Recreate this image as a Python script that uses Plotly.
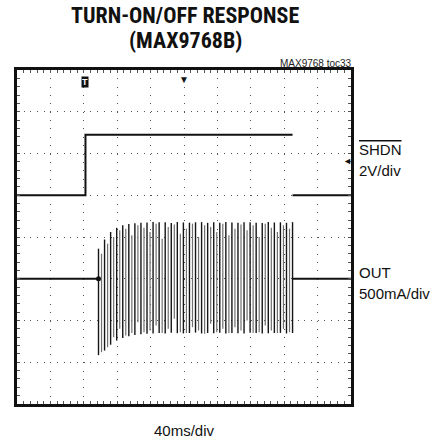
import plotly.graph_objects as go

# ---------------- data ----------------
time_per_div_ms = 40
n_xdiv = 10
n_ydiv = 8

# SHDN channel (volts), 2 V/div, ground marker at +1 div
shdn_t_ms = [0, 82, 82, 330, None, 330, 400]
shdn_v = [0, 0, 2.9, 2.9, None, 0, 0]
shdn_v_per_div = 2
shdn_offset_div = 1

# OUT channel (mA), 500 mA/div, ground at -1 div
out_ma_per_div = 500
out_offset_div = -1
out_base_t_ms = [0, 97.6, None, 330, 400]
out_base_ma = [0, 0, None, 0, 0]

burst_start_ms = 97.6
burst_end_ms = 330
# dark strokes of the burst: upper / lower peak of each stroke (mA)
dark_hi_ma = [360, 470, 560, 610, 640, 655, 665, 672, 675, 680, 676, 678, 668, 680, 674, 672, 676,
              678, 670, 676, 672, 680, 674, 670, 676, 678, 672, 668, 680, 674, 676, 670, 678]
dark_lo_ma = [-915, -860, -790, -740, -710, -690, -675, -665, -660, -655, -650, -655, -648, -652, -655, -650, -645,
              -655, -650, -652, -648, -655, -650, -652, -655, -648, -650, -655, -652, -650, -648, -655, -650]
# lighter interleaved strokes (mA)
gray_hi_ma = [300, 420, 500, 580, 600, 520, 640, 610, 560, 660, 480, 620, 650, 540, 600, 660,
              500, 640, 620, 560, 660, 520, 600, 650, 580, 640, 500, 660, 610, 560, 640, 600]
gray_lo_ma = [-880, -820, -700, -600, -680, -650, -520, -640, -620, -560, -650, -600, -480, -640, -650, -580,
              -620, -660, -540, -640, -600, -650, -580, -620, -500, -650, -640, -560, -620, -650, -600, -640]

trigger_t_ms = 82
trigger_level_v = 1.67
hpos_t_ms = 200

# ---------------- helpers ----------------
def shdn_div(v):
    return [None if x is None else shdn_offset_div + x / shdn_v_per_div for x in v]

def out_div(v):
    return [None if x is None else out_offset_div + x / out_ma_per_div for x in v]

def strokes(t0, dt, hi, lo):
    xs, ys = [], []
    for i, (h, l) in enumerate(zip(hi, lo)):
        t = t0 + i * dt
        xs += [t, t, None]
        ys += [out_offset_div + l / out_ma_per_div, out_offset_div + h / out_ma_per_div, None]
    return xs, ys

step = (burst_end_ms - burst_start_ms) / (len(dark_hi_ma) - 1)
dx, dy = strokes(burst_start_ms, step, dark_hi_ma, dark_lo_ma)
gx, gy = strokes(burst_start_ms + step / 2, step, gray_hi_ma, gray_lo_ma)

x_max = time_per_div_ms * n_xdiv

fig = go.Figure()
fig.add_trace(go.Scatter(x=gx, y=gy, mode="lines", line=dict(color="#707070", width=1.2),
                         connectgaps=False, hoverinfo="skip"))
fig.add_trace(go.Scatter(x=dx, y=dy, mode="lines", line=dict(color="#151515", width=1.4),
                         connectgaps=False, hoverinfo="skip"))
fig.add_trace(go.Scatter(x=out_base_t_ms, y=out_div(out_base_ma), mode="lines",
                         line=dict(color="#111", width=2), connectgaps=False))
fig.add_trace(go.Scatter(x=[burst_start_ms], y=out_div([0]), mode="markers",
                         marker=dict(color="#111", size=5)))
fig.add_trace(go.Scatter(x=shdn_t_ms, y=shdn_div(shdn_v), mode="lines",
                         line=dict(color="#111", width=2), connectgaps=False))

L, R, T, B = 17, 97, 70, 37
W, H = 448, 441
pw, ph = W - L - R, H - T - B

def px(xp):
    return (xp - L) / pw

def py(yp):
    return (H - B - yp) / ph

title_font = dict(family="Roboto Condensed, DejaVu Sans Condensed, Liberation Sans Narrow, Liberation Sans, sans-serif",
                  size=22, color="#111")
lab = dict(family="Liberation Sans, Arial, sans-serif", size=15, color="#111")
ann = []
ann.append(dict(text="<b>TURN-ON/OFF RESPONSE</b>", x=px(185), y=py(16), xref="paper", yref="paper",
                showarrow=False, xanchor="center", yanchor="middle", font=title_font))
ann.append(dict(text="<b>(MAX9768B)</b>", x=px(185), y=py(40), xref="paper", yref="paper",
                showarrow=False, xanchor="center", yanchor="middle", font=title_font))
ann.append(dict(text="MAX9768 toc33", x=px(354), y=py(63), xref="paper", yref="paper",
                showarrow=False, xanchor="right", yanchor="middle",
                font=dict(family="Liberation Sans, Arial, sans-serif", size=10, color="#222")))
ann.append(dict(text='<span style="text-decoration:overline">SHDN</span>', x=px(357), y=py(149), xref="paper", yref="paper",
                showarrow=False, xanchor="left", yanchor="middle", font=lab))
ann.append(dict(text="2V/div", x=px(357), y=py(170), xref="paper", yref="paper",
                showarrow=False, xanchor="left", yanchor="middle", font=lab))
ann.append(dict(text="OUT", x=px(357), y=py(272), xref="paper", yref="paper",
                showarrow=False, xanchor="left", yanchor="middle", font=lab))
ann.append(dict(text="500mA/div", x=px(357), y=py(293.5), xref="paper", yref="paper",
                showarrow=False, xanchor="left", yanchor="middle", font=lab))
ann.append(dict(text="40ms/div", x=px(184.3), y=py(430.5), xref="paper", yref="paper",
                showarrow=False, xanchor="center", yanchor="middle", font=lab))
# scope markers
ann.append(dict(text="<b>T</b>", x=trigger_t_ms, xref="x", y=py(82), yref="paper", showarrow=False,
                xanchor="center", yanchor="middle", bgcolor="#111", borderpad=0,
                font=dict(family="Liberation Sans, Arial", size=9, color="white")))
ann.append(dict(text="▼", x=hpos_t_ms, xref="x", y=1, yref="paper", showarrow=False,
                xanchor="center", yanchor="top", font=dict(size=10, color="#111")))
ann.append(dict(text="◄", x=px(347), xref="paper", y=shdn_offset_div + trigger_level_v / shdn_v_per_div,
                yref="y", showarrow=False, xanchor="center", yanchor="middle",
                font=dict(size=9, color="#111")))

fig.update_layout(
    width=W, height=H, margin=dict(l=L, r=R, t=T, b=B),
    paper_bgcolor="white", plot_bgcolor="white", showlegend=False,
    annotations=ann,
    xaxis=dict(range=[0, x_max], dtick=time_per_div_ms, tick0=0, showticklabels=False,
               showgrid=True, gridcolor="#555", gridwidth=1, griddash="1px,7.35px",
               zeroline=False, showline=True, linecolor="#111", linewidth=2.5, mirror="allticks",
               ticks="inside", ticklen=3, tickcolor="#555",
               minor=dict(dtick=time_per_div_ms / 5, ticks="inside", ticklen=3, tickcolor="#555", showgrid=False)),
    yaxis=dict(range=[-n_ydiv / 2, n_ydiv / 2], dtick=1, tick0=0, showticklabels=False,
               showgrid=True, gridcolor="#555", gridwidth=1, griddash="1px,5.68px",
               zeroline=False, showline=True, linecolor="#111", linewidth=2.5, mirror="allticks",
               ticks="inside", ticklen=3, tickcolor="#555",
               minor=dict(dtick=0.2, ticks="inside", ticklen=3, tickcolor="#555", showgrid=False)),
)

fig.write_html("out.html", config={"displayModeBar": False},
               post_script="document.body.style.margin='0px';")
